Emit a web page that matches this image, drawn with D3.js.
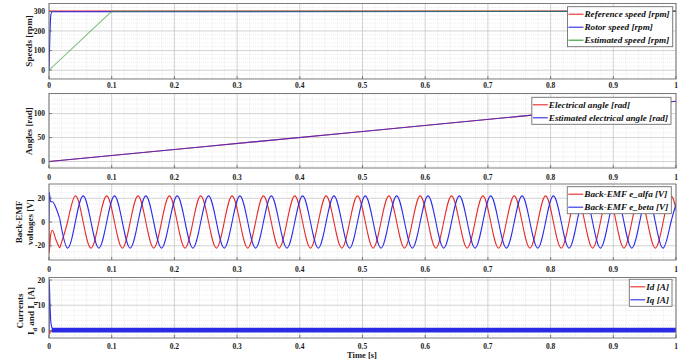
<!DOCTYPE html>
<html><head><meta charset="utf-8">
<script src="https://cdn.jsdelivr.net/npm/d3@7"></script>
<style>body{margin:0;background:#fff} svg{display:block}</style>
</head><body><svg id="c" width="694" height="364"></svg>
<script>
// ---------------- data ----------------
const xTicks = [0,0.1,0.2,0.3,0.4,0.5,0.6,0.7,0.8,0.9,1];
const xTickLabels = ["0","0.1","0.2","0.3","0.4","0.5","0.6","0.7","0.8","0.9","1"];
const speedTicks = [0,100,200,300];
const angleTicks = [0,50,100];
const emfTicks = [-20,0,20];
const currentTicks = [0,10,20];

const refSpeedT = [0,1];
const refSpeed = [301,301];
const rotorSpeedT = [0,0.0015,0.003,0.005,1];
const rotorSpeed = [0,180,285,298,300];
const estSpeedT = [0,0.1,1];
const estSpeed = [0,300,300];

const angleT = [0,0.25,0.5,0.75,1];
const elecAngle = [0,31.4,62.8,94.2,125.7];
const estElecAngle = [0,31.4,62.8,94.2,125.7];

// start-up transient of the back-EMF estimates
const emfTransT = [0,0.0004,0.0025,0.0055,0.011,0.017];
const emfAlfaTrans = [0,-26,-11,-7,-15,-22];
const emfBetaTrans = [0,25,17,17,12,3];
// steady part, sampled every quarter period (20 Hz)
const emfT = [0.017,0.0295,0.042,0.0545, 0.067,0.0795,0.092,0.1045, 0.117,0.1295,0.142,0.1545, 0.167,0.1795,0.192,0.2045,
  0.217,0.2295,0.242,0.2545, 0.267,0.2795,0.292,0.3045, 0.317,0.3295,0.342,0.3545, 0.367,0.3795,0.392,0.4045,
  0.417,0.4295,0.442,0.4545, 0.467,0.4795,0.492,0.5045, 0.517,0.5295,0.542,0.5545, 0.567,0.5795,0.592,0.6045,
  0.617,0.6295,0.642,0.6545, 0.667,0.6795,0.692,0.7045, 0.717,0.7295,0.742,0.7545, 0.767,0.7795,0.792,0.8045,
  0.817,0.8295,0.842,0.8545, 0.867,0.8795,0.892,0.9045, 0.917,0.9295,0.942,0.9545, 0.967,0.9795,0.992,1.0045];
const emfAlfa = [-22,0,22,0, -22,0,22,0, -22,0,22,0, -22,0,22,0, -22,0,22,0,
  -22,0,22,0, -22,0,22,0, -22,0,22,0, -22,0,22,0, -22,0,22,0,
  -22,0,22,0, -22,0,22,0, -22,0,22,0, -22,0,22,0, -22,0,22,0,
  -22,0,22,0, -22,0,22,0, -22,0,22,0, -22,0,22,0, -22,0,22,0];
const emfBeta = [3,-22,0,22, 0,-22,0,22, 0,-22,0,22, 0,-22,0,22, 0,-22,0,22,
  0,-22,0,22, 0,-22,0,22, 0,-22,0,22, 0,-22,0,22, 0,-22,0,22,
  0,-22,0,22, 0,-22,0,22, 0,-22,0,22, 0,-22,0,22, 0,-22,0,22,
  0,-22,0,22, 0,-22,0,22, 0,-22,0,22, 0,-22,0,22, 0,-22,0,22];

const idT = [0,0.0008,0.003,0.006,1];
const idVal = [0,-1.2,-0.4,0.1,0.1];
const iqT = [0,0.0004,0.0015,0.003,0.0055];
const iqVal = [0,20,11,3,0.6];
const iqBandT = [0.0045,1];
const iqUpper = [1.1,1.1];
const iqLower = [-0.8,-0.8];

// ---------------- layout ----------------
const svg = d3.select("#c");
const L = 49, R = 676;
const RED = "#e52a2a", BLUE = "#2a2ae6", GREEN = "#2e9b2e";
const FONT = "'Liberation Serif','Times New Roman',serif";
const x = d3.scaleLinear().domain([0,1]).range([L,R]);

const panels = [
  {top:3.5, bottom:79, dom:[-45,340], ticks:speedTicks, minor:20, lab:6},
  {top:93.5, bottom:168, dom:[-13.5,142], ticks:angleTicks, minor:10, lab:9},
  {top:184, bottom:260, dom:[-32,32], ticks:emfTicks, minor:5, lab:9},
  {top:277.5, bottom:338, dom:[-3,21], ticks:currentTicks, minor:2, lab:8.5}
];

const xMinor = d3.range(0,1.0001,0.02).filter(v => Math.abs(v*10 - Math.round(v*10)) > 1e-6);

panels.forEach((p,i) => {
  p.y = d3.scaleLinear().domain(p.dom).range([p.bottom,p.top]);
  const g = svg.append("g");
  p.g = g;
  g.append("rect").attr("x",L).attr("y",p.top).attr("width",R-L).attr("height",p.bottom-p.top).attr("fill","#fff");
  const yMinor = d3.range(Math.ceil(p.dom[0]/p.minor)*p.minor, p.dom[1]+1e-9, p.minor)
    .filter(v => !p.ticks.some(t => Math.abs(t-v)<1e-9));
  g.selectAll(".mx").data(xMinor).join("line")
    .attr("x1",d=>x(d)).attr("x2",d=>x(d)).attr("y1",p.top).attr("y2",p.bottom)
    .attr("stroke","#e4e4e4").attr("stroke-width",0.7).attr("stroke-dasharray","1,1");
  g.selectAll(".my").data(yMinor).join("line")
    .attr("x1",L).attr("x2",R).attr("y1",d=>p.y(d)).attr("y2",d=>p.y(d))
    .attr("stroke","#e4e4e4").attr("stroke-width",0.7).attr("stroke-dasharray","1,1");
  g.selectAll(".gx").data(xTicks).join("line")
    .attr("x1",d=>x(d)).attr("x2",d=>x(d)).attr("y1",p.top).attr("y2",p.bottom)
    .attr("stroke","#c6c6c6").attr("stroke-width",0.8);
  g.selectAll(".gy").data(p.ticks).join("line")
    .attr("x1",L).attr("x2",R).attr("y1",d=>p.y(d)).attr("y2",d=>p.y(d))
    .attr("stroke","#c6c6c6").attr("stroke-width",0.8);
  svg.append("clipPath").attr("id","clip"+i).append("rect")
    .attr("x",L).attr("y",p.top).attr("width",R-L).attr("height",p.bottom-p.top);
  p.data = g.append("g").attr("clip-path",`url(#clip${i})`);
});

function drawLine(p, ts, vs, color, curve, extra) {
  const line = d3.line().x(d=>x(d[0])).y(d=>p.y(d[1])).curve(curve || d3.curveLinear);
  const path = p.data.append("path").attr("d", line(ts.map((t,k)=>[t,vs[k]])))
    .attr("fill","none").attr("stroke",color).attr("stroke-width",1.1);
  if (extra) extra(path);
  return path;
}

// panel 1: speeds
drawLine(panels[0], refSpeedT, refSpeed, RED);
drawLine(panels[0], rotorSpeedT, rotorSpeed, BLUE, d3.curveMonotoneX);
drawLine(panels[0], estSpeedT, estSpeed, GREEN, null, s=>s.attr("stroke-opacity",0.6));

// panel 2: angles
drawLine(panels[1], angleT, elecAngle, RED);
drawLine(panels[1], angleT, estElecAngle, BLUE, null, s=>s.attr("stroke-opacity",0.75));

// panel 3: back-EMF
drawLine(panels[2], emfTransT, emfAlfaTrans, RED, d3.curveMonotoneX);
drawLine(panels[2], emfT, emfAlfa, RED, d3.curveNatural);
drawLine(panels[2], emfTransT, emfBetaTrans, BLUE, d3.curveMonotoneX);
drawLine(panels[2], emfT, emfBeta, BLUE, d3.curveNatural);

// panel 4: currents
drawLine(panels[3], idT, idVal, RED);
const area = d3.area().x(d=>x(d[0])).y0(d=>panels[3].y(d[2])).y1(d=>panels[3].y(d[1]));
panels[3].data.append("path").attr("d", area(iqBandT.map((t,k)=>[t,iqUpper[k],iqLower[k]])))
  .attr("fill",BLUE);
drawLine(panels[3], iqT, iqVal, BLUE, d3.curveMonotoneX);

// frames, ticks, labels
panels.forEach(p => {
  const g = p.g.append("g");
  g.append("rect").attr("x",L).attr("y",p.top).attr("width",R-L).attr("height",p.bottom-p.top)
    .attr("fill","none").attr("stroke","#6f6f6f").attr("stroke-width",0.9);
  g.selectAll(".tx").data(xTicks).join("line")
    .attr("x1",d=>x(d)).attr("x2",d=>x(d)).attr("y1",p.bottom).attr("y2",p.bottom-3)
    .attr("stroke","#555").attr("stroke-width",0.7);
  g.selectAll(".ty").data(p.ticks).join("line")
    .attr("x1",L).attr("x2",L+3).attr("y1",d=>p.y(d)).attr("y2",d=>p.y(d))
    .attr("stroke","#555").attr("stroke-width",0.7);
  g.selectAll(".lx").data(xTicks).join("text")
    .attr("x",d=>x(d)).attr("y",p.bottom+p.lab).attr("dy","0.35em")
    .attr("text-anchor","middle").attr("font-family",FONT).attr("font-weight","bold")
    .attr("font-size","7.5px").attr("fill","#1a1a1a").text((d,k)=>xTickLabels[k]);
  g.selectAll(".ly").data(p.ticks).join("text")
    .attr("x",L-4).attr("y",d=>p.y(d)).attr("dy","0.35em")
    .attr("text-anchor","end").attr("font-family",FONT).attr("font-weight","bold")
    .attr("font-size","7.5px").attr("fill","#1a1a1a").text(d=>String(d));
});

function yTitle(xp, yc, build) {
  const t = svg.append("text").attr("transform",`translate(${xp},${yc}) rotate(-90)`)
    .attr("text-anchor","middle").attr("font-family",FONT).attr("font-weight","bold")
    .attr("font-size","9px").attr("fill","#1a1a1a");
  build(t);
}
yTitle(29, 41, t=>t.attr("dy","0.35em").text("Speeds [rpm]"));
yTitle(28.5, 131, t=>t.attr("dy","0.35em").text("Angles [rad]"));
yTitle(19, 222, t=>t.attr("dy","0.35em").text("Back-EMF"));
yTitle(30, 222, t=>t.attr("dy","0.35em").text("voltages [V]"));
yTitle(20, 311, t=>t.attr("dy","0.35em").text("Currents"));
yTitle(31, 311, t=>{
  t.attr("dy","0.35em");
  t.append("tspan").text("I");
  t.append("tspan").attr("font-size","6.5px").attr("dy","2.5").text("d");
  t.append("tspan").attr("dy","-2.5").text(" and I");
  t.append("tspan").attr("font-size","6.5px").attr("dy","2.5").text("q");
  t.append("tspan").attr("dy","-2.5").text(" [A]");
});

svg.append("text").attr("x",362).attr("y",355).attr("dy","0.35em").attr("text-anchor","middle")
  .attr("font-family",FONT).attr("font-weight","bold").attr("font-size","8.5px").attr("fill","#1a1a1a")
  .text("Time [s]");

function legend(right, top, items) {
  const g = svg.append("g");
  const box = g.append("rect");
  const lineLen = 15, rowH = 13;
  let maxW = 0;
  const texts = items.map((it,k) => {
    const t = g.append("text").attr("y", top + 7.5 + k*rowH).attr("dy","0.35em")
      .attr("font-family",FONT).attr("font-weight","bold").attr("font-style","italic")
      .attr("font-size","9.2px").attr("fill","#111").text(it.label);
    maxW = Math.max(maxW, t.node().getComputedTextLength());
    return t;
  });
  const w = lineLen + 2 + maxW + 3;
  const left = right - w;
  const h = 7.5 + (items.length-1)*rowH + 6.5;
  box.attr("x",left).attr("y",top).attr("width",w).attr("height",h)
    .attr("fill","#fff").attr("stroke","#6f6f6f").attr("stroke-width",0.9);
  items.forEach((it,k) => {
    const yy = top + 7.5 + k*rowH;
    g.append("line").attr("x1",left+1).attr("x2",left+1+lineLen).attr("y1",yy).attr("y2",yy)
      .attr("stroke",it.color).attr("stroke-width",1.1);
    texts[k].attr("x", left + lineLen + 2);
  });
}
legend(672.7, 6.7, [{label:"Reference speed [rpm]",color:RED},{label:"Rotor speed [rpm]",color:BLUE},{label:"Estimated speed [rpm]",color:GREEN}]);
legend(671, 97.3, [{label:"Electrical angle [rad]",color:RED},{label:"Estimated electrical angle [rad]",color:BLUE}]);
legend(671.3, 186.7, [{label:"Back-EMF e_alfa [V]",color:RED},{label:"Back-EMF e_beta [V]",color:BLUE}]);
legend(672, 279.3, [{label:"Id [A]",color:RED},{label:"Iq [A]",color:BLUE}]);
</script></body></html>
